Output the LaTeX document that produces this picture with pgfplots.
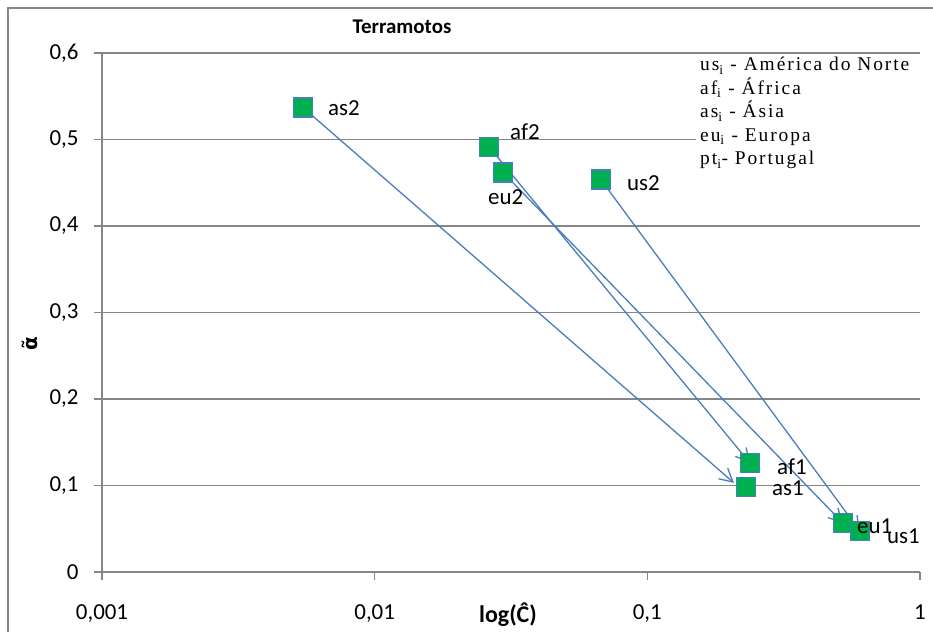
\documentclass[border=0pt]{standalone}
\usepackage{fontspec}
\setmainfont{Carlito}
\newfontfamily\legfont[LetterSpace=10]{Liberation Serif}
\newfontfamily\dejavu{DejaVu Sans}
\usepackage{pgfplots}
\pgfplotsset{compat=1.18}
\usetikzlibrary{arrows.meta}
\definecolor{gridc}{HTML}{868686}
\definecolor{mk}{HTML}{00B050}
\definecolor{ln}{HTML}{4A7EBB}
\begin{document}
\begin{tikzpicture}[x=1bp,y=1bp]
\useasboundingbox (0,0) rectangle (933,632);
\draw[gridc, line width=1.2bp] (8,-5) rectangle (950,624);
\begin{axis}[at={(102bp,60bp)}, anchor=south west, scale only axis,
  width=818bp, height=519bp,
  xmode=log, xmin=0.001, xmax=1, ymin=0, ymax=0.6,
  axis x line*=bottom, axis y line*=left,
  axis line style={gridc, line width=1.2bp, -},
  ytick={0,0.1,0.2,0.3,0.4,0.5,0.6},
  yticklabels={0,{0,1},{0,2},{0,3},{0,4},{0,5},{0,6}},
  xtick={0.001,0.01,0.1,1}, xticklabels={{0,001},{0,01},{0,1},1},
  xminorticks=false, yminorticks=false,
  ymajorgrids, major grid style={gridc, line width=1.2bp},
  tick style={gridc, line width=1.2bp}, tick align=outside, major tick length=8bp,
  ticklabel style={font=\fontsize{23}{27}\selectfont, text=black},
  yticklabel style={anchor=east, xshift=-12bp},
  xticklabel style={anchor=base, yshift=-40bp},
  clip=false,
]
\addplot[only marks, mark=square*, mark size=9.5bp, mark options={fill=mk, draw=ln, line width=1.5bp}]
  coordinates {(0.00546,0.537) (0.02625,0.4916) (0.02954,0.462) (0.0676,0.4535)
               (0.2378,0.126) (0.230,0.098) (0.5214,0.0566) (0.602,0.0474)};
\addplot[ln, line width=1.3bp, -{Straight Barb[length=13bp,width=14bp,line width=1.3bp]}]
  coordinates {(0.00546,0.537) (0.2078,0.103)};
\addplot[ln, line width=1.3bp, -{Straight Barb[length=13bp,width=14bp,line width=1.3bp]}]
  coordinates {(0.02625,0.4916) (0.2378,0.126)};
\addplot[ln, line width=1.3bp, -{Straight Barb[length=13bp,width=14bp,line width=1.3bp]}]
  coordinates {(0.02954,0.462) (0.5214,0.0566)};
\addplot[ln, line width=1.3bp, -{Straight Barb[length=13bp,width=14bp,line width=1.3bp]}]
  coordinates {(0.0676,0.4535) (0.602,0.0474)};
\end{axis}
% point labels
\begin{scope}[every node/.style={font=\fontsize{23}{27}\selectfont, anchor=west, inner sep=0pt}]
\node at (328,524) {as2};
\node at (510,500) {af2};
\node at (488,435) {eu2};
\node at (627,449) {us2};
\node at (777,165) {af1};
\node at (772,144) {as1};
\node at (857,106) {eu1};
\node at (887,96) {us1};
\end{scope}
% legend box
\fill[white] (696,574) rectangle (921,456);
\begin{scope}[every node/.style={anchor=base west, inner sep=0pt, font=\legfont\fontsize{19.5}{23.5}\selectfont}]
\node at (700,561) {us\textsubscript{i} - América do Norte};
\node at (700,537.5) {af\textsubscript{i} - África};
\node at (700,514) {as\textsubscript{i} - Ásia};
\node at (700,490.5) {eu\textsubscript{i} - Europa};
\node at (700,467) {pt\textsubscript{i}- Portugal};
\end{scope}
% title and labels
\node[font=\bfseries\fontsize{21}{25}\selectfont] at (402,605) {Terramotos};
\node[font=\bfseries\fontsize{24}{28}\selectfont] at (508,17) {log(Ĉ)};
\node[font=\dejavu\bfseries\fontsize{20}{24}\selectfont, rotate=90] at (30,288) {α̃};
\end{tikzpicture}
\end{document}
